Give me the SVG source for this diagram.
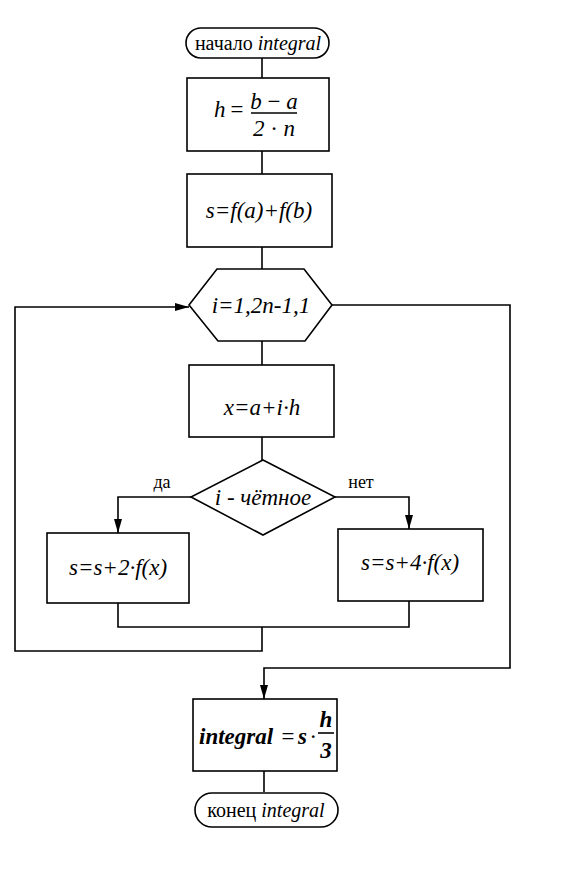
<svg xmlns="http://www.w3.org/2000/svg" width="567" height="882" viewBox="0 0 567 882">
<style>
.s{fill:#fff;stroke:#000;stroke-width:1.6}
.c{fill:none;stroke:#000;stroke-width:1.6}
.t{font-family:"Liberation Serif","Times New Roman",serif;font-size:23px;font-style:italic;fill:#000}
.r{font-family:"Liberation Serif","Times New Roman",serif;font-size:20px;fill:#000}
.l{font-family:"Liberation Serif","Times New Roman",serif;font-size:18px;fill:#000}
.b{font-weight:bold}
</style>
<defs>
<marker id="a" viewBox="0 0 14 8" refX="14" refY="4" markerWidth="14" markerHeight="8" markerUnits="userSpaceOnUse" orient="auto">
<path d="M0,0 L14,4 L0,8 Z" fill="#000"/>
</marker>
</defs>
<g id="connectors">
<line class="c" x1="262" y1="57" x2="262" y2="78"/>
<line class="c" x1="262" y1="151" x2="262" y2="174"/>
<line class="c" x1="262" y1="247" x2="262" y2="269"/>
<line class="c" x1="262" y1="341" x2="262" y2="365"/>
<line class="c" x1="262" y1="437" x2="262" y2="460"/>
<polyline class="c" points="191,497 118,497 118,533" marker-end="url(#a)"/>
<polyline class="c" points="335,497 409,497 409,529" marker-end="url(#a)"/>
<polyline class="c" points="118,603 118,627 409,627 409,601"/>
<polyline class="c" points="262,627 262,651 15,651 15,307 189,307" marker-end="url(#a)"/>
<polyline class="c" points="332,305 510,305 510,668 264,668 264,699" marker-end="url(#a)"/>
<line class="c" x1="264" y1="771" x2="264" y2="792"/>
<text class="l" x="162" y="488" text-anchor="middle">да</text>
<text class="l" x="361" y="488" text-anchor="middle">нет</text>
</g>
<g id="start">
<rect class="s" x="186" y="28" width="143" height="30" rx="15"/>
<text class="r" x="258" y="50" text-anchor="middle">начало <tspan font-style="italic">integral</tspan></text>
</g>
<g id="calc-h">
<rect class="s" x="187" y="78" width="142" height="73"/>
<text class="t" x="214" y="117">h</text>
<text class="t" x="229" y="117" font-style="normal">=</text>
<text class="t" x="274" y="109" text-anchor="middle">b<tspan font-style="normal"> − </tspan>a</text>
<line class="c" x1="251" y1="113" x2="297" y2="113"/>
<text class="t" x="274" y="136" text-anchor="middle">2<tspan font-style="normal"> · </tspan>n</text>
</g>
<g id="calc-s">
<rect class="s" x="187" y="174" width="145" height="73"/>
<text class="t" x="259" y="218" text-anchor="middle">s=f(a)+f(b)</text>
</g>
<g id="loop">
<polygon class="s" points="189,305 217,269 304,269 332,305 305,341 218,341"/>
<text class="t" x="261" y="313" text-anchor="middle">i=1,2n-1,1</text>
</g>
<g id="calc-x">
<rect class="s" x="189" y="365" width="145" height="72"/>
<text class="t" x="262" y="415" text-anchor="middle">x=a+i·h</text>
</g>
<g id="decision">
<polygon class="s" points="263,460 335,497 263,535 191,497"/>
<text class="t" x="263" y="505" text-anchor="middle">i - чётное</text>
</g>
<g id="even">
<rect class="s" x="47" y="533" width="142" height="70"/>
<text class="t" x="118" y="575" text-anchor="middle">s=s+2·f(x)</text>
</g>
<g id="odd">
<rect class="s" x="338" y="529" width="145" height="72"/>
<text class="t" x="410" y="570" text-anchor="middle">s=s+4·f(x)</text>
</g>
<g id="result">
<rect class="s" x="193" y="699" width="144" height="72"/>
<text class="t b" x="199" y="744">integral</text>
<text class="t" x="280" y="744" font-style="normal">=</text>
<text class="t b" x="298" y="744">s</text>
<text class="t" x="310" y="744" font-style="normal">·</text>
<text class="t b" x="326" y="727" text-anchor="middle">h</text>
<line class="c" x1="318" y1="733" x2="334" y2="733"/>
<text class="t b" x="326" y="758" text-anchor="middle">3</text>
</g>
<g id="end">
<rect class="s" x="195" y="793" width="143" height="34" rx="17"/>
<text class="r" x="266" y="817" text-anchor="middle">конец <tspan font-style="italic">integral</tspan></text>
</g>
</svg>
